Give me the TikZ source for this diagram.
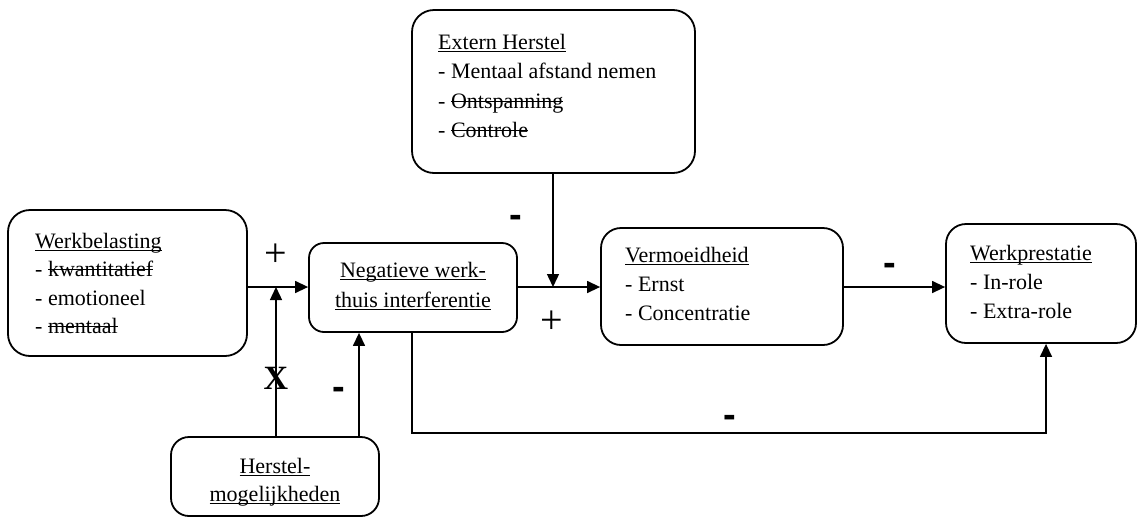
\documentclass[tikz,border=0pt]{standalone}
\usepackage{fontspec}
\setmainfont{Liberation Serif}
\newfontfamily\lsans{Liberation Sans}
\newcommand\myul[1]{\setbox0\hbox{#1}\rlap{\vrule height -2pt depth 3.3pt width \wd0}\box0}
\newcommand\myso[1]{\setbox0\hbox{#1}\rlap{\vrule height 7.4pt depth -6.1pt width \wd0}\box0}
\usetikzlibrary{arrows.meta}
\begin{document}
\begin{tikzpicture}[x=1pt,y=-1pt,
  box/.style={draw, line width=1.8pt, rounded corners=22pt, inner sep=0pt},
  conn/.style={line width=1.4pt, -{Triangle[length=13pt,width=12pt]}},
  txt/.style={inner sep=0pt, anchor=base west, font=\fontsize{22}{26}\selectfont},
  ctxt/.style={txt, anchor=base},
  pluslab/.style={inner sep=0pt, font=\fontsize{40}{40}\selectfont},
  minuslab/.style={inner sep=0pt, font=\lsans\bfseries\fontsize{38}{38}\selectfont},
  xlab/.style={inner sep=0pt, font=\bfseries\fontsize{34}{34}\selectfont},
]
\useasboundingbox (0,0) rectangle (1138,520);

% boxes
\node[box, minimum width=239pt, minimum height=146pt] (wb) at (127.5,283) {};
\node[box, rounded corners=15pt, minimum width=208pt, minimum height=89pt] (nwi) at (413,287.5) {};
\node[box, minimum width=283pt, minimum height=163pt] (eh) at (553.5,91.5) {};
\node[box, rounded corners=20pt, minimum width=242pt, minimum height=117pt] (vm) at (722,286.5) {};
\node[box, rounded corners=20pt, minimum width=190pt, minimum height=119pt] (wp) at (1041,283.5) {};
\node[box, rounded corners=18pt, minimum width=208pt, minimum height=79pt] (hm) at (275,476.5) {};

% texts
\node[txt] (wb1) at (35,248) {\myul{Werkbelasting}};
\node[txt] (wb2) at (35,276.5) {- \myso{kwantitatief}};
\node[txt] (wb3) at (35,305) {- emotioneel};
\node[txt] (wb4) at (35,333.5) {- \myso{mentaal}};

\node[ctxt] (nw1) at (413,277) {\myul{Negatieve werk-}};
\node[ctxt] (nw2) at (413,307) {\myul{thuis interferentie}};

\node[txt] (eh1) at (438,49) {\myul{Extern Herstel}};
\node[txt] (eh2) at (438,78.5) {- Mentaal afstand nemen};
\node[txt] (eh3) at (438,108) {- \myso{Ontspanning}};
\node[txt] (eh4) at (438,137.5) {- \myso{Controle}};

\node[txt] (vm1) at (625,262) {\myul{Vermoeidheid}};
\node[txt] (vm2) at (625,291) {- Ernst};
\node[txt] (vm3) at (625,320) {- Concentratie};

\node[txt] (wp1) at (970,260) {\myul{Werkprestatie}};
\node[txt] (wp2) at (970,289) {- In-role};
\node[txt] (wp3) at (970,318) {- Extra-role};

\node[ctxt] (hm1) at (275,473) {\myul{Herstel-}};
\node[ctxt] (hm2) at (275,501) {\myul{mogelijkheden}};

% connectors
\coordinate (j1) at (276,287);
\coordinate (j2) at (553,287);
\coordinate (k1) at (359,400);
\coordinate (n1) at (412,433);
\coordinate (b1) at (1046,433);

\draw[conn] (wb.east |- j1) -- (nwi.west |- j1);
\draw[conn] (hm.north -| j1) -- (j1);
\draw[conn] (hm.north -| k1) -- (nwi.south -| k1);
\draw[conn] (nwi.east |- j2) -- (vm.west |- j2);
\draw[conn] (eh.south -| j2) -- (j2);
\draw[conn] (vm.east |- j2) -- (wp.west |- j2);
\draw[conn] (nwi.south -| n1) -- (n1) -- (b1) -- (wp.south -| b1);

% labels
\node[pluslab] (p1) at (276,255) {+};
\node[pluslab] (p2) at (552,322) {+};
\node[xlab] (x1) at (276,378) {X};
\node[minuslab] (m1) at (339,393) {-};
\node[minuslab] (m2) at (516,221) {-};
\node[minuslab] (m3) at (890,269) {-};
\node[minuslab] (m4) at (730,421) {-};
\end{tikzpicture}
\end{document}
